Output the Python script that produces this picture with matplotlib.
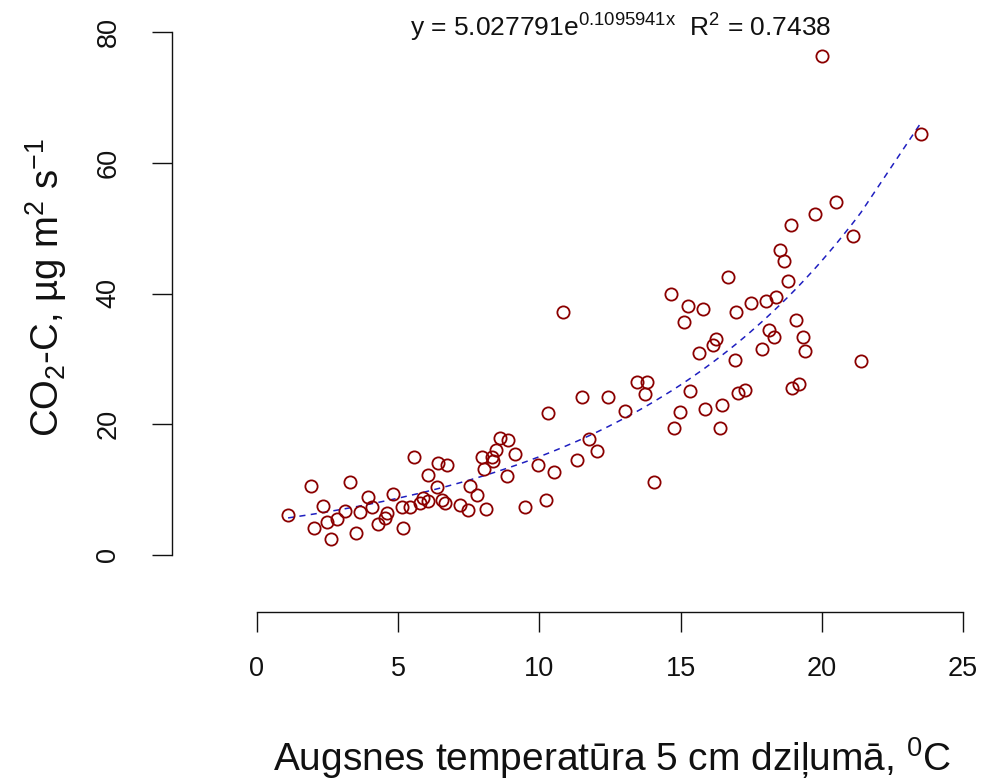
import numpy as np
import matplotlib
matplotlib.use('Agg')
import matplotlib.pyplot as plt

# ---- data ----
temp = [1.10, 1.90, 2.03, 2.33, 2.47, 2.62, 2.85, 3.12, 3.30, 3.51, 3.65, 3.94,
        4.06, 4.30, 4.55, 4.62, 4.83, 5.12, 5.18, 5.42, 5.56, 5.78, 5.89, 6.07,
        6.07, 6.36, 6.42, 6.54, 6.66, 6.72, 7.19, 7.48, 7.54, 7.78, 7.96, 8.04,
        8.12, 8.31, 8.37, 8.46, 8.60, 8.84, 8.90, 9.14, 9.49, 9.94, 10.23, 10.32,
        10.53, 10.82, 11.34, 11.50, 11.77, 12.05, 12.44, 13.03, 13.47, 13.74,
        13.82, 14.06, 14.65, 14.77, 14.99, 15.12, 15.26, 15.33, 15.66, 15.81,
        15.86, 16.16, 16.25, 16.40, 16.46, 16.69, 16.93, 16.96, 17.04, 17.28,
        17.48, 17.87, 18.02, 18.14, 18.31, 18.38, 18.52, 18.66, 18.81, 18.90,
        18.93, 19.09, 19.20, 19.32, 19.39, 19.76, 20.00, 20.50, 21.09, 21.38,
        23.50]
co2 = [6.1, 10.6, 4.2, 7.5, 5.1, 2.4, 5.5, 6.8, 11.2, 3.3, 6.6, 8.8,
       7.4, 4.8, 5.6, 6.4, 9.3, 7.4, 4.2, 7.4, 15.0, 7.9, 8.7, 8.2,
       12.2, 10.4, 14.0, 8.4, 7.9, 13.8, 7.6, 6.9, 10.6, 9.2, 15.0, 13.1,
       7.1, 15.0, 14.4, 16.1, 17.9, 12.1, 17.6, 15.4, 7.4, 13.8, 8.4, 21.7,
       12.7, 37.1, 14.6, 24.2, 17.8, 15.9, 24.2, 22.1, 26.5, 24.7,
       26.5, 11.2, 40.0, 19.4, 21.9, 35.6, 38.1, 25.1, 30.9, 37.7,
       22.3, 32.1, 33.1, 19.4, 22.9, 42.6, 29.9, 37.2, 24.8, 25.2,
       38.5, 31.5, 38.8, 34.4, 33.3, 39.4, 46.6, 45.0, 41.9, 50.5,
       25.5, 35.9, 26.2, 33.4, 31.2, 52.1, 76.4, 54.0, 48.8, 29.6,
       64.4]
# exponential fit coefficients as printed on the chart
A_COEF = 5.027791
B_COEF = 0.1095941
R2 = 0.7438
xticks = [0, 5, 10, 15, 20, 25]
yticks = [0, 20, 40, 60, 80]

# ---- fonts ----
plt.rcParams['font.family'] = ['Liberation Sans', 'DejaVu Sans']
plt.rcParams['mathtext.fontset'] = 'custom'
plt.rcParams['mathtext.rm'] = 'Liberation Sans'
plt.rcParams['mathtext.it'] = 'Liberation Sans:italic'
plt.rcParams['mathtext.bf'] = 'Liberation Sans:bold'

W, H = 997, 781
fig = plt.figure(figsize=(W / 100, H / 100), dpi=100)
TXT = '#111111'

# pixel layout
x0px, x25px = 257, 963
y0px, y80px = 555, 32
left_px, right_px, bottom_px, top_px = 172, 985, 612, 10
ax = fig.add_axes([left_px / W, 1 - bottom_px / H,
                   (right_px - left_px) / W, (bottom_px - top_px) / H])
sx = (x25px - x0px) / 25.0
sy = (y0px - y80px) / 80.0
ax.set_xlim((left_px - x0px) / sx, (right_px - x0px) / sx)
ax.set_ylim((y0px - bottom_px) / sy, (y0px - top_px) / sy)

# fitted curve through sorted x values
xs = np.sort(np.array(temp))
ys = A_COEF * np.exp(B_COEF * xs)
ax.plot(xs, ys, color='#1f1fc0', lw=1.1, ls=(0, (4, 3.5)), zorder=2)

ax.plot(temp, co2, 'o', mfc='none', mec='#8B0000', ms=8.8, mew=1.3,
        zorder=3, clip_on=False)

for s in ['top', 'right']:
    ax.spines[s].set_visible(False)
ax.spines['left'].set_bounds(0, 80)
ax.spines['bottom'].set_bounds(0, 25)
for s in ['left', 'bottom']:
    ax.spines[s].set_linewidth(1.0)
    ax.spines[s].set_color(TXT)

ax.set_xticks(xticks)
ax.set_yticks(yticks)
ax.tick_params(axis='both', length=14.4, width=1.0, color=TXT,
               labelsize=19.5, labelcolor=TXT)
ax.tick_params(axis='x', pad=17)
ax.tick_params(axis='y', pad=22)
for lbl in ax.get_yticklabels():
    lbl.set_rotation(90)
    lbl.set_va('center')

fig.text(612 / W, 1 - 758 / H, 'Augsnes temperatūra 5 cm dziļumā, $^0$C',
         ha='center', va='center', fontsize=28, color=TXT)
fig.text(46 / W, 1 - 288 / H, 'CO$_2$-C, µg m$^2$ s$^{-1}$',
         ha='center', va='center', rotation=90, fontsize=27.5, color=TXT)

eq = f'y = {A_COEF}e$^{{\\mathrm{{{B_COEF}x}}}}$  R$^2$ = {R2}'
fig.text(621 / W, 1 - 28 / H, eq, ha='center', va='center', fontsize=19,
         color=TXT)

fig.savefig('out.png', dpi=100)
